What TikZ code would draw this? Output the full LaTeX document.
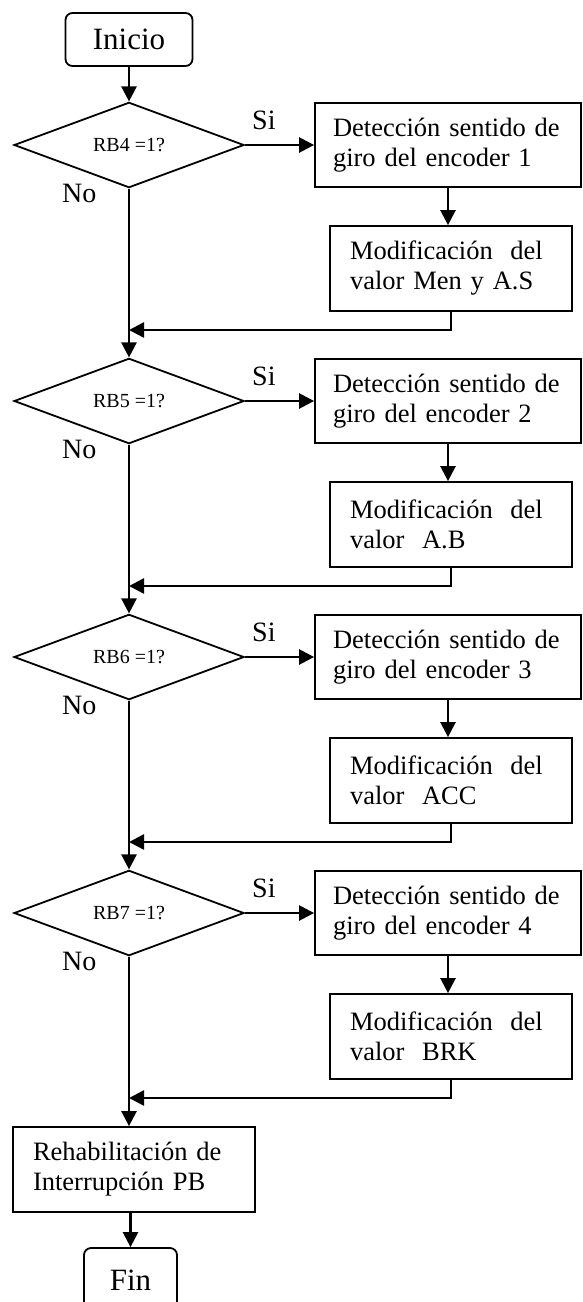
\documentclass[tikz,border=0pt]{standalone}
\usepackage{fontspec}
\setmainfont{Liberation Serif}
\usetikzlibrary{shapes.geometric,arrows.meta}

\begin{document}
\begin{tikzpicture}[x=1pt,y=-1pt,
  conn/.style={line width=2.5pt,-{Triangle[length=15pt,width=15pt]}},
  term/.style={draw,rectangle,line width=1.8pt,rounded corners=7pt,
    minimum width=127pt,minimum height=53pt,inner sep=0pt,
    font=\fontsize{31}{36}\selectfont},
  dec/.style={draw,diamond,line width=1.8pt,minimum width=230pt,
    minimum height=84pt,inner sep=0pt,font=\fontsize{20}{24}\selectfont},
  procbox/.style={draw,rectangle,line width=1.8pt,align=left,
    inner ysep=0pt,font=\fontsize{26.5}{30}\selectfont},
  detbox/.style={procbox,text width=230pt,inner xsep=18pt,minimum height=84pt},
  modbox/.style={procbox,text width=202pt,inner xsep=20pt,minimum height=85pt},
  lbl/.style={font=\fontsize{28}{32}\selectfont,inner sep=0pt,anchor=base west}
]
\useasboundingbox (0,0) rectangle (582,1302);
\clip (0,0) rectangle (582,1302);

% start
\node[term] (ini) at (129,39.5) {Inicio};

% block 1
\node[dec] (d1) at (129,145) {RB4 =1?\hspace{16pt}};
\node[detbox] (e1) at (448,145) {Detección sentido de\\giro del encoder 1};
\node[modbox] (m1) at (451,268.5) {Modificación\ \ del\\valor Men y A.S};
\coordinate (j1) at (129,330);
\node[lbl] (si1) at (252,129) {Si};
\node[lbl] (no1) at (62,202) {No};

% block 2
\node[dec] (d2) at (129,401) {RB5 =1?\hspace{16pt}};
\node[detbox] (e2) at (448,401) {Detección sentido de\\giro del encoder 2};
\node[modbox] (m2) at (451,524.5) {Modificación\ \ del\\valor\ \ A.B};
\coordinate (j2) at (129,586);
\node[lbl] (si2) at (252,385) {Si};
\node[lbl] (no2) at (62,458) {No};

% block 3
\node[dec] (d3) at (129,657) {RB6 =1?\hspace{16pt}};
\node[detbox] (e3) at (448,657) {Detección sentido de\\giro del encoder 3};
\node[modbox] (m3) at (451,780.5) {Modificación\ \ del\\valor\ \ ACC};
\coordinate (j3) at (129,842);
\node[lbl] (si3) at (252,641) {Si};
\node[lbl] (no3) at (62,714) {No};

% block 4
\node[dec] (d4) at (129,913) {RB7 =1?\hspace{16pt}};
\node[detbox] (e4) at (448,913) {Detección sentido de\\giro del encoder 4};
\node[modbox] (m4) at (451,1036.5) {Modificación\ \ del\\valor\ \ BRK};
\coordinate (j4) at (129,1098);
\node[lbl] (si4) at (252,897) {Si};
\node[lbl] (no4) at (62,970) {No};

% end
\node[modbox,minimum height=85pt] (r) at (134,1169.5) {Rehabilitación de\\Interrupción PB};
\node[term,minimum width=93pt,minimum height=64pt] (fin) at (130.5,1280) {Fin};

% connectors
\draw[conn] (ini.south) -- (d1.north);
\foreach \i/\n in {1/2,2/3,3/4}{
  \draw[conn] (d\i.south) -- (d\n.north);
}
\foreach \i in {1,2,3,4}{
  \draw[conn] (d\i.east) -- (e\i.west);
  \draw[conn] (e\i.south) -- (e\i.south |- m\i.north);
  \draw[conn] (m\i.south) |- (j\i);
}
\draw[conn] (d4.south) -- (d4.south |- r.north);
\draw[conn] (fin.north |- r.south) -- (fin.north);
\end{tikzpicture}
\end{document}
